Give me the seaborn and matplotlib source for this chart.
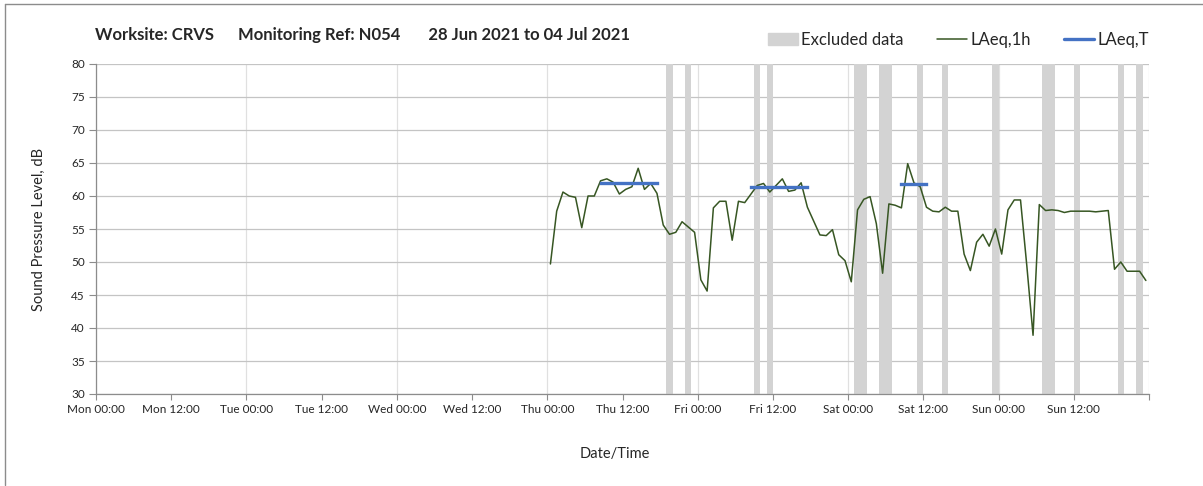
import pandas as pd
import seaborn as sns
import matplotlib.pyplot as plt
from matplotlib.lines import Line2D
from matplotlib.patches import Patch

sns.set_theme(style="white")
plt.rcParams['font.family'] = ['Lato', 'DejaVu Sans']

# hours since Mon 00:00, hourly LAeq,1h from Thu 00:00 to Sun 23:00
data_start_hour = 72
laeq_1h = [
    # Thu
    49.7, 57.7, 60.6, 60.0, 59.8, 55.2, 60.0, 60.0, 62.3, 62.6, 62.1, 60.3,
    61.0, 61.4, 64.2, 61.0, 61.9, 60.4, 55.6, 54.2, 54.5, 56.1, 55.3, 54.5,
    # Fri
    47.3, 45.6, 58.2, 59.2, 59.2, 53.3, 59.2, 59.0, 60.3, 61.6, 61.9, 60.6,
    61.6, 62.6, 60.7, 60.9, 62.0, 58.3, 56.2, 54.1, 54.0, 54.9, 51.1, 50.2,
    # Sat
    47.0, 57.9, 59.5, 59.9, 55.8, 48.3, 58.8, 58.6, 58.2, 64.9, 62.0, 61.4,
    58.3, 57.7, 57.6, 58.3, 57.7, 57.7, 51.2, 48.7, 53.0, 54.2, 52.4, 55.0,
    # Sun
    51.2, 57.9, 59.4, 59.4, 49.5, 38.9, 58.7, 57.8, 57.9, 57.8, 57.5, 57.7,
    57.7, 57.7, 57.7, 57.6, 57.7, 57.8, 48.9, 50.0, 48.6, 48.6, 48.6, 47.2,
]

# excluded periods: start hour (from Thu 00:00) and length in hours
excluded_start = [19, 22, 33, 35, 49, 53, 59, 63, 71, 79, 84, 91, 94]
excluded_len = [1, 1, 1, 1, 2, 2, 1, 1, 1, 2, 1, 1, 1]

# LAeq,T daytime periods (first and last hour, from Thu 00:00)
period_first = [8, 32, 56]
period_last = [17, 41, 60]
laeq_t = [61.9, 61.3, 61.8]

day_labels = ['Mon 00:00', 'Tue 00:00', 'Wed 00:00', 'Thu 00:00',
              'Fri 00:00', 'Sat 00:00', 'Sun 00:00', '']
noon_labels = ['Mon 12:00', 'Tue 12:00', 'Wed 12:00', 'Thu 12:00',
               'Fri 12:00', 'Sat 12:00', 'Sun 12:00']

# build frames (points sit in the middle of each hour)
df = pd.DataFrame({
    'hour': [data_start_hour + i + 0.5 for i in range(len(laeq_1h))],
    'level': laeq_1h,
})
rows = []
for k, (a, b, v) in enumerate(zip(period_first, period_last, laeq_t)):
    rows.append({'period': k, 'hour': data_start_hour + a + 0.5, 'level': v})
    rows.append({'period': k, 'hour': data_start_hour + b + 0.5, 'level': v})
df_t = pd.DataFrame(rows)

fig = plt.figure(figsize=(12.03, 4.86), dpi=100)
ax = fig.add_axes([96 / 1203, 92 / 486, 1053 / 1203, 330 / 486])
ax.set_axisbelow(True)

for s, n in zip(excluded_start, excluded_len):
    ax.axvspan(data_start_hour + s, data_start_hour + s + n,
               color='#D3D3D3', lw=0, zorder=1)

sns.lineplot(data=df, x='hour', y='level', ax=ax, color='#375623',
             lw=1.1, zorder=3)
sns.lineplot(data=df_t, x='hour', y='level', units='period', estimator=None,
             ax=ax, color='#4472C4', lw=2.4, zorder=4,
             solid_capstyle='projecting')

ax.set_xlim(0, 168)
ax.set_ylim(30, 80)
ax.set_yticks(range(30, 81, 5))
ax.set_xticks(range(0, 169, 24), labels=day_labels)
ax.set_xticks(range(12, 168, 24), labels=noon_labels, minor=True)

ax.grid(axis='y', color='#C4C4C4', lw=0.9)
ax.grid(axis='x', which='major', color='#E0E0E0', lw=0.9)

for side in ['top', 'right']:
    ax.spines[side].set_visible(False)
for side in ['left', 'bottom']:
    ax.spines[side].set_color('#8C8C8C')
    ax.spines[side].set_linewidth(0.9)

ax.tick_params(axis='x', which='both', direction='out', length=4, width=0.8,
               color='#8C8C8C', labelsize=8.5, pad=3, bottom=True)
ax.tick_params(axis='y', direction='out', length=5, width=0.8,
               color='#8C8C8C', labelsize=8.5, pad=3, left=True)

ax.set_xlabel('Date/Time', fontsize=10.5)
ax.set_ylabel('Sound Pressure Level, dB', fontsize=10.5)
ax.xaxis.set_label_coords(0.493, -0.16)
ax.yaxis.set_label_coords(-0.048, 0.5)

fig.text(95 / 1203, 1 - 35 / 486,
         'Worksite: CRVS      Monitoring Ref: N054       28 Jun 2021 to 04 Jul 2021',
         fontsize=12, fontweight='bold', ha='left', va='center')

handles = [Patch(color='#D3D3D3', label='Excluded data'),
           Line2D([], [], color='#375623', lw=1.1, label='LAeq,1h'),
           Line2D([], [], color='#4472C4', lw=2.4, label='LAeq,T')]
fig.legend(handles=handles, loc='center right', bbox_to_anchor=(1157 / 1203, 1 - 40 / 486),
           ncol=3, frameon=False, fontsize=12, handlelength=1.8,
           handleheight=0.7, handletextpad=0.2, columnspacing=2.0, borderpad=0)

# chart-area border (top and left edges visible)
fig.add_artist(Line2D([4.5 / 1203, 1], [1 - 4.5 / 486, 1 - 4.5 / 486],
                      transform=fig.transFigure, color='#8C8C8C', lw=1))
fig.add_artist(Line2D([4.5 / 1203, 4.5 / 1203], [1.5 / 486, 1 - 4.5 / 486],
                      transform=fig.transFigure, color='#8C8C8C', lw=1))

fig.savefig('out.png', dpi=100)
